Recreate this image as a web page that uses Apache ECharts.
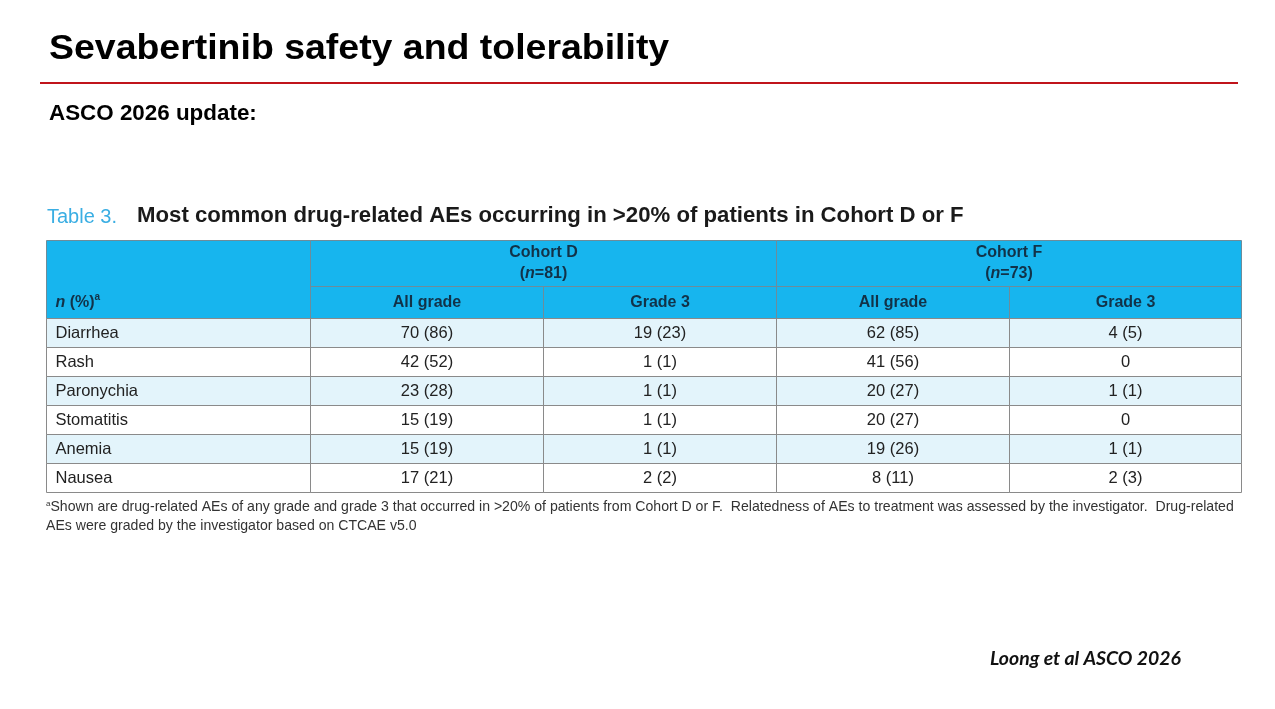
<!DOCTYPE html>
<html>
<head>
<meta charset="utf-8">
<script src="https://cdn.jsdelivr.net/npm/echarts@6/dist/echarts.min.js"></script>
<style>
  html, body { margin: 0; padding: 0; background: #fff; }
  #main { width: 1275px; height: 709px; }
</style>
</head>
<body>
<div id="main"></div>
<script>
// ---- table content ----
const cohortNames = ['Cohort D', 'Cohort F'];
const cohortSizes = [81, 73];
const gradeLabels = ['All grade', 'Grade 3'];
const aeTerms = ['Diarrhea', 'Rash', 'Paronychia', 'Stomatitis', 'Anemia', 'Nausea'];
const cohortD_allN = [70, 42, 23, 15, 15, 17];
const cohortD_allPct = [86, 52, 28, 19, 19, 21];
const cohortD_g3N = [19, 1, 1, 1, 1, 2];
const cohortD_g3Pct = [23, 1, 1, 1, 1, 2];
const cohortF_allN = [62, 41, 20, 20, 19, 8];
const cohortF_allPct = [85, 56, 27, 27, 26, 11];
const cohortF_g3N = [4, 0, 1, 0, 1, 2];
const cohortF_g3Pct = [5, 0, 1, 0, 1, 3];

// ---- table layout (axis units) ----
const colEdges = [0, 264, 497, 730, 963, 1195];
const rowEdges = [0, 46, 78, 107, 136, 165, 194, 223, 252];

const headBg = '#17B5EE';
const stripeBg = '#E3F4FB';
const lineColor = '#8A8A8A';
const headLine = '#6E8C9A';
const headText = '#123248';
const bodyText = '#222222';
const font = '"Liberation Sans", Arial, sans-serif';

function fmt(n, pct) {
  return n === 0 ? '0' : n + ' (' + pct + ')';
}

// build cell list
const cells = [];
cells.push({ c0: 0, c1: 1, r0: 0, r1: 2, kind: 'corner', text: '{bi|n}{b| (%)}{sup|a}' });
cohortNames.forEach(function (name, i) {
  cells.push({ c0: 1 + i * 2, c1: 3 + i * 2, r0: 0, r1: 1, kind: 'cohort',
    text: '{b|' + name + '}\n{b|(}{bi|n}{b|=' + cohortSizes[i] + ')}' });
});
cohortNames.forEach(function (name, i) {
  gradeLabels.forEach(function (g, j) {
    cells.push({ c0: 1 + i * 2 + j, c1: 2 + i * 2 + j, r0: 1, r1: 2, kind: 'grade', text: '{b|' + g + '}' });
  });
});
const valueCols = [
  [cohortD_allN, cohortD_allPct],
  [cohortD_g3N, cohortD_g3Pct],
  [cohortF_allN, cohortF_allPct],
  [cohortF_g3N, cohortF_g3Pct]
];
aeTerms.forEach(function (term, r) {
  cells.push({ c0: 0, c1: 1, r0: 2 + r, r1: 3 + r, kind: 'term', stripe: r % 2 === 0, text: term });
  valueCols.forEach(function (vc, c) {
    cells.push({ c0: 1 + c, c1: 2 + c, r0: 2 + r, r1: 3 + r, kind: 'num', stripe: r % 2 === 0,
      text: fmt(vc[0][r], vc[1][r]) });
  });
});

const headRich = {
  b: { fontFamily: font, fontSize: 16, fontWeight: 'bold', fill: headText, color: headText, lineHeight: 21 },
  bi: { fontFamily: font, fontSize: 16, fontWeight: 'bold', fontStyle: 'italic', fill: headText, color: headText, lineHeight: 21 },
  sup: { fontFamily: font, fontSize: 10, fontWeight: 'bold', fill: headText, color: headText, verticalAlign: 'top', lineHeight: 21 }
};

function isHead(cell) {
  return cell.kind === 'corner' || cell.kind === 'cohort' || cell.kind === 'grade';
}

function cellBox(cell, api) {
  const p0 = api.coord([colEdges[cell.c0], rowEdges[cell.r0]]);
  const p1 = api.coord([colEdges[cell.c1], rowEdges[cell.r1]]);
  const x0 = Math.round(p0[0]) + 0.5, y0 = Math.round(p0[1]) + 0.5;
  const x1 = Math.round(p1[0]) + 0.5, y1 = Math.round(p1[1]) + 0.5;
  return { x0: x0, y0: y0, x1: x1, y1: y1 };
}

// cell fill + text
function renderCell(params, api) {
  const cell = cells[params.dataIndex];
  const b = cellBox(cell, api);
  const head = isHead(cell);
  const fill = head ? headBg : (cell.stripe ? stripeBg : '#ffffff');
  let tx, ty, align = 'center';
  if (cell.kind === 'corner') {
    const q = api.coord([0, (rowEdges[1] + rowEdges[2]) / 2]);
    tx = b.x0 + 9; ty = q[1] + 1; align = 'left';
  } else if (cell.kind === 'term') {
    tx = b.x0 + 9; ty = (b.y0 + b.y1) / 2; align = 'left';
  } else {
    tx = (b.x0 + b.x1) / 2; ty = (b.y0 + b.y1) / 2;
  }
  const style = {
    text: cell.text, x: tx, y: ty,
    align: align, verticalAlign: 'middle',
    textAlign: align, textVerticalAlign: 'middle',
    fontFamily: font, fontSize: 16.5, fill: bodyText
  };
  if (head) { style.rich = headRich; }
  return {
    type: 'group',
    children: [
      { type: 'rect', shape: { x: b.x0, y: b.y0, width: b.x1 - b.x0, height: b.y1 - b.y0 },
        style: { fill: fill } },
      { type: 'text', style: style }
    ]
  };
}

// cell borders, drawn as separate lines above the fills
function renderBorder(params, api) {
  const cell = cells[params.dataIndex];
  const b = cellBox(cell, api);
  const stroke = isHead(cell) ? headLine : lineColor;
  const segs = [
    [b.x0, b.y0, b.x1, b.y0],
    [b.x1, b.y0, b.x1, b.y1],
    [b.x0, b.y1, b.x1, b.y1],
    [b.x0, b.y0, b.x0, b.y1]
  ];
  return {
    type: 'group',
    children: segs.map(function (s) {
      return { type: 'line', shape: { x1: s[0], y1: s[1], x2: s[2], y2: s[3] },
        style: { stroke: stroke, lineWidth: 1 } };
    })
  };
}

const cellData = cells.map(function (c) { return [colEdges[c.c0], rowEdges[c.r0]]; });

const chart = echarts.init(document.getElementById('main'));

const option = {
  backgroundColor: '#ffffff',
  animation: false,
  grid: { left: 46, top: 240, width: 1195, height: 252 },
  xAxis: { type: 'value', min: 0, max: colEdges[colEdges.length - 1], show: false },
  yAxis: { type: 'value', min: 0, max: rowEdges[rowEdges.length - 1], inverse: true, show: false },
  graphic: [
    {
      type: 'text', x: 49, y: 32, scaleX: 1.07,
      style: { text: 'Sevabertinib safety and tolerability', fontFamily: font, fontSize: 35,
        fontWeight: 'bold', fill: '#000' }
    },
    {
      type: 'line', shape: { x1: 40, y1: 83, x2: 1238, y2: 83 },
      style: { stroke: '#C0141B', lineWidth: 2 }
    },
    {
      type: 'text', left: 49, top: 103,
      style: { text: 'ASCO 2026 update:', fontFamily: font, fontSize: 22.4, fontWeight: 'bold', fill: '#000' }
    },
    {
      type: 'text', left: 47, top: 207,
      style: { text: 'Table 3.', fontFamily: font, fontSize: 20, fill: '#3AAEE3' }
    },
    {
      type: 'text', left: 137, top: 205,
      style: { text: 'Most common drug-related AEs occurring in >20% of patients in Cohort D or F',
        fontFamily: font, fontSize: 22.2, fontWeight: 'bold', fill: '#1a1a1a' }
    },
    {
      type: 'text', left: 46, top: 500,
      style: {
        text: '{s|a}{f|Shown are drug-related AEs of any grade and grade 3 that occurred in >20% of patients from Cohort D or F.  Relatedness of AEs to treatment was assessed by the investigator.  Drug-related}',
        rich: {
          s: { fontFamily: font, fontSize: 8, fill: '#333', color: '#333', verticalAlign: 'top' },
          f: { fontFamily: font, fontSize: 14.1, fill: '#333', color: '#333' }
        }
      }
    },
    {
      type: 'text', left: 46, top: 519,
      style: { text: 'AEs were graded by the investigator based on CTCAE v5.0', fontFamily: font,
        fontSize: 14.1, fill: '#333' }
    },
    {
      type: 'text', x: 990, y: 650, scaleX: 1.08,
      style: { text: 'Loong et al ASCO 2026', fontFamily: 'Lato, "Open Sans", sans-serif', fontSize: 18,
        fontWeight: 'bold', fontStyle: 'italic', fill: '#111' }
    }
  ],
  series: [
    {
      type: 'custom', z: 2, silent: true, clip: false,
      renderItem: renderCell, data: cellData
    },
    {
      type: 'custom', z: 3, silent: true, clip: false,
      renderItem: renderBorder, data: cellData
    }
  ]
};

chart.setOption(option);
</script>
</body>
</html>
